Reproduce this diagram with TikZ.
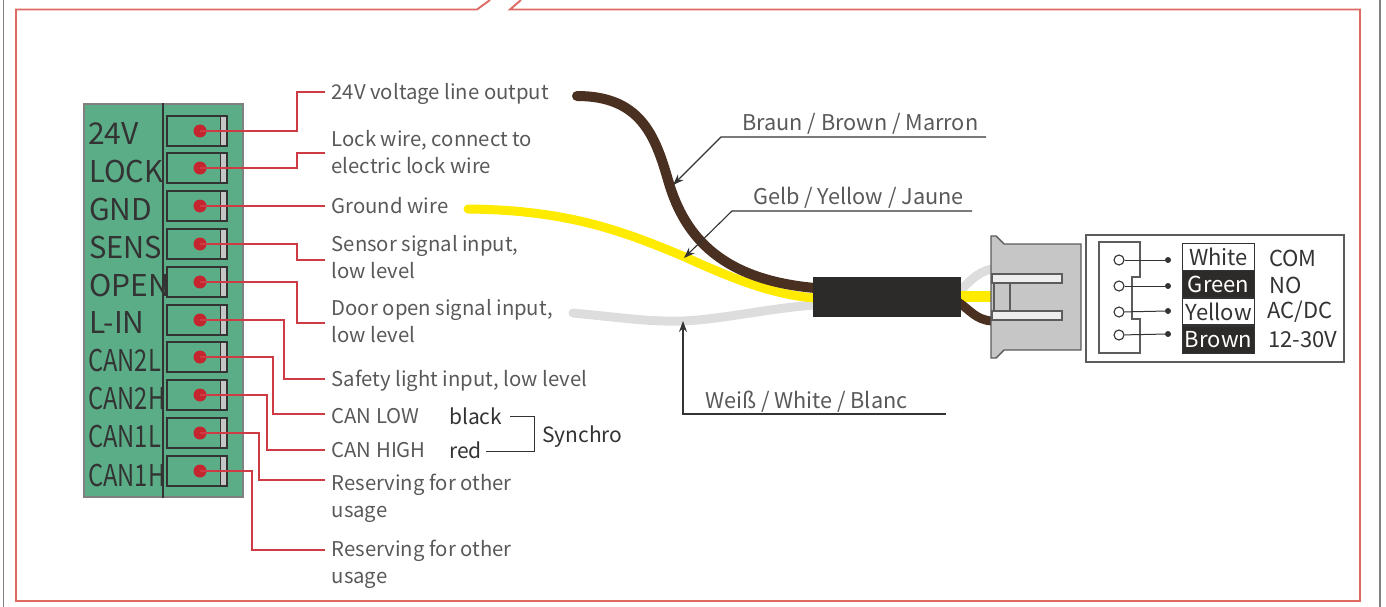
\documentclass[tikz,border=0pt]{standalone}
\usepackage{fontspec}
\setmainfont{Noto Sans CJK SC}
\usetikzlibrary{arrows.meta}

\definecolor{framered}{HTML}{DE6A64}
\definecolor{leadred}{HTML}{CE3B45}
\definecolor{dotred}{HTML}{C5252E}
\definecolor{boardgreen}{HTML}{5BAD87}
\definecolor{inkgrey}{HTML}{595959}
\definecolor{darkink}{HTML}{333333}
\definecolor{wirebrown}{HTML}{4A3020}
\definecolor{wireyellow}{HTML}{FFEB00}
\definecolor{wirewhite}{HTML}{DDDDDD}
\definecolor{plugbody}{HTML}{C6C6C6}
\definecolor{sleeveblack}{HTML}{2C2B29}

\tikzset{
	pinlabel/.style={anchor=west, inner sep=0pt, text=darkink, font=\fontsize{30}{30}\selectfont},
	terminal/.style={draw=darkink, line width=1.2pt, fill=boardgreen, inner sep=0pt, minimum width=60pt, minimum height=30pt,
		path picture={\fill[plugbody] ([xshift=-7pt]path picture bounding box.north east) rectangle (path picture bounding box.south east);
			\draw[darkink, line width=1pt] ([xshift=-7pt]path picture bounding box.north east) -- ([xshift=-7pt]path picture bounding box.south east);}},
	pindot/.style={shape=circle, fill=dotred, inner sep=0pt, minimum size=13pt},
	leader/.style={draw=leadred, line width=1.3pt},
	note/.style={anchor=west, inner sep=0pt, align=left, text=inkgrey, font=\fontsize{20.3}{27}\selectfont},
	wirename/.style={anchor=west, inner sep=0pt, text=inkgrey, font=\fontsize{21.7}{27}\selectfont},
	callout/.style={draw=darkink, line width=1.1pt},
	pointer/.style={callout, -{Stealth[length=11pt, width=8pt]}},
	colorname/.style={draw=darkink, line width=1.2pt, inner sep=0pt, minimum width=72pt, minimum height=27pt, text=darkink, font=\fontsize{22}{27}\selectfont},
	blackname/.style={colorname, fill=sleeveblack, text=white},
	signame/.style={anchor=west, inner sep=0pt, text=darkink, font=\fontsize{22}{27}\selectfont},
	pinring/.style={shape=circle, draw=darkink, line width=1.1pt, fill=white, inner sep=0pt, minimum size=10pt},
	pinend/.style={shape=circle, fill=darkink, inner sep=0pt, minimum size=6pt},
}

\begin{document}
\begin{tikzpicture}[x=1pt, y=-1pt]

	\useasboundingbox (0,0) rectangle (1386,607);

	% page edges and frame
	\draw[gray, line width=1.8pt] (3.5,0) -- (3.5,607);
	\draw[gray, line width=1.8pt] (1380,0) -- (1380,607);
	\draw[framered, line width=1.9pt] (490,0) -- (477,9.5) -- (16,9.5) -- (16,601) -- (1360,601) -- (1360,9.5) -- (510,9.5) -- (521,0);

	% green board
	\node[draw=gray, line width=1.4pt, fill=boardgreen, inner sep=0pt, minimum width=159pt, minimum height=393pt] (board) at (163.5,300.5) {};
	\draw[darkink, line width=1.1pt] (board.north) ++(-0.5,0) -- ([xshift=-0.5pt]board.south);

	\node[pinlabel] (name24v) at (88,134) {24V};
	\node[pinlabel] (namelock) at (89,172) {\scalebox{.97}[1]{LOCK}};
	\node[pinlabel] (namegnd) at (89,210) {GND};
	\node[pinlabel] (namesens) at (89,248) {\scalebox{.97}[1]{SENS}};
	\node[pinlabel] (nameopen) at (89,286) {OPEN};
	\node[pinlabel] (namelin) at (89,323) {L-IN};
	\node[pinlabel] (namecanA) at (88,361) {\scalebox{.79}[1]{CAN2L}};
	\node[pinlabel] (namecanB) at (88,399) {\scalebox{.79}[1]{CAN2H}};
	\node[pinlabel] (namecanC) at (88,437) {\scalebox{.79}[1]{CAN1L}};
	\node[pinlabel] (namecanD) at (88,475) {\scalebox{.79}[1]{CAN1H}};

	\node[terminal] (term24v) at (197,131) {};
	\node[terminal] (termlock) at (197,168) {};
	\node[terminal] (termgnd) at (197,206) {};
	\node[terminal] (termsens) at (197,244) {};
	\node[terminal] (termopen) at (197,282) {};
	\node[terminal] (termlin) at (197,320) {};
	\node[terminal] (termcanA) at (197,357) {};
	\node[terminal] (termcanB) at (197,395) {};
	\node[terminal] (termcanC) at (197,433) {};
	\node[terminal] (termcanD) at (197,471) {};

	\node[pindot] (dot24v) at (200,131) {};
	\node[pindot] (dotlock) at (200,168) {};
	\node[pindot] (dotgnd) at (200,206) {};
	\node[pindot] (dotsens) at (200,244) {};
	\node[pindot] (dotopen) at (200,282) {};
	\node[pindot] (dotlin) at (200,320) {};
	\node[pindot] (dotcanA) at (200,357) {};
	\node[pindot] (dotcanB) at (200,395) {};
	\node[pindot] (dotcanC) at (200,433) {};
	\node[pindot] (dotcanD) at (200,471) {};

	% notes beside the board
	\node[note] (note24v) at (331.5,93.5) {24V voltage line output};
	\node[note] (notelock) at (331.5,152) {Lock wire, connect to\\electric lock wire};
	\node[note] (notegnd) at (331.5,206) {Ground wire};
	\node[note] (notesens) at (331.5,257) {Sensor signal input,\\low level};
	\node[note] (noteopen) at (331.5,321) {Door open signal input,\\low level};
	\node[note] (notelin) at (331.5,380.5) {Safety light input, low level};
	\node[note] (notecanlow) at (331.5,416) {CAN LOW};
	\node[note] (notecanhigh) at (331.5,450) {CAN HIGH};
	\node[note] (noteresA) at (331.5,498.5) {Reserving for other\\usage};
	\node[note] (noteresB) at (331.5,564.5) {Reserving for other\\usage};

	\coordinate (end24v) at (325,92);
	\coordinate (endlock) at (325,153);
	\coordinate (endgnd) at (325,206);
	\coordinate (endsens) at (325,260);
	\coordinate (endopen) at (325,323);
	\coordinate (endlin) at (325,379);
	\coordinate (endcanA) at (325,414);
	\coordinate (endcanB) at (325,450);
	\coordinate (endcanC) at (325,480);
	\coordinate (endcanD) at (325,550);

	\draw[leader] (dot24v.center) -- ++(97,0) |- (end24v);
	\draw[leader] (dotlock.center) -- ++(97,0) |- (endlock);
	\draw[leader] (dotgnd.center) -- (endgnd);
	\draw[leader] (dotsens.center) -- ++(97,0) |- (endsens);
	\draw[leader] (dotopen.center) -- ++(97,0) |- (endopen);
	\draw[leader] (dotlin.center) -- ++(84,0) |- (endlin);
	\draw[leader] (dotcanA.center) -- ++(73,0) |- (endcanA);
	\draw[leader] (dotcanB.center) -- ++(67,0) |- (endcanB);
	\draw[leader] (dotcanC.center) -- ++(59,0) |- (endcanC);
	\draw[leader] (dotcanD.center) -- ++(52,0) |- (endcanD);

	% synchro bracket
	\node[signame, font=\fontsize{21}{27}\selectfont] (black) at (449,416) {black};
	\node[signame, font=\fontsize{21}{27}\selectfont] (red) at (449,450) {red};
	\node[signame, font=\fontsize{21}{27}\selectfont] (synchro) at (542,436.5) {Synchro};
	\coordinate (blackend) at (510,416);
	\coordinate (redend) at (486,451);
	\coordinate (bracket) at (534,416);
	\draw[callout, line width=0.9pt] (blackend) -- (bracket) |- (redend);

	% wires
	\coordinate (brownfree) at (577,96);
	\coordinate (yellowfree) at (468,209);
	\coordinate (whitefree) at (573,313);
	\coordinate (brownin) at (815,288);
	\coordinate (yellowin) at (815,298);
	\coordinate (whitein) at (815,305);
	\draw[wirewhite, line width=9pt, line cap=round] (whitefree) .. controls (625,318) and (650,322) .. (683,321) .. controls (725,319) and (770,308) .. (whitein);
	\draw[wireyellow, line width=9pt, line cap=round] (yellowfree) .. controls (570,210) and (625,232) .. (685,257) .. controls (735,280) and (775,295) .. (yellowin);
	\draw[wirebrown, line width=10pt, line cap=round] (brownfree) .. controls (640,96) and (655,135) .. (668,180) .. controls (685,240) and (725,280) .. (brownin);

	% plug
	\draw[wirewhite, line width=9pt] (958,292) .. controls (968,284) and (976,272) .. (992,269);
	\draw[wireyellow, line width=11pt] (958,296) -- (992,296);
	\draw[wirebrown, line width=9pt] (958,302) .. controls (970,310) and (976,320) .. (992,321);
	\node[fill=sleeveblack, inner sep=0pt, minimum width=148pt, minimum height=40pt] (sleeve) at (887,297) {};
	\draw[darkink!80, line width=1.4pt, fill=plugbody] (991,236) -- (996,236) -- (1004,244) -- (1081,244) -- (1081,350) -- (1004,350) -- (996,358) -- (991,358) -- cycle;
	\draw[darkink!80, line width=1.1pt, fill=plugbody] (994,283) rectangle (1010,311);
	\draw[darkink!80, line width=1.1pt, fill=white!70!plugbody] (992,274) rectangle (1062,283);
	\draw[darkink!80, line width=1.1pt, fill=white!70!plugbody] (992,311) rectangle (1062,320);

	% callouts to the wires
	\node[wirename] (braun) at (742,124) {Braun / Brown / Marron};
	\node[wirename] (gelb) at (753,198) {Gelb / Yellow / Jaune};
	\node[wirename] (weiss) at (705,402) {Weiß / White / Blanc};
	\coordinate (braunend) at (986,137);
	\coordinate (braunknee) at (721,137);
	\coordinate (brauntip) at (673,185);
	\coordinate (gelbend) at (972,211);
	\coordinate (gelbknee) at (732,211);
	\coordinate (gelbtip) at (684,258);
	\coordinate (weissend) at (946,414);
	\coordinate (weissknee) at (683,414);
	\coordinate (weisstip) at (683,321);
	\draw[pointer] (braunend) -- (braunknee) -- (brauntip);
	\draw[pointer] (gelbend) -- (gelbknee) -- (gelbtip);
	\draw[pointer] (weissend) -- (weissknee) -- (weisstip);

	% pin table
	\node[draw=darkink!80, line width=1.3pt, inner sep=0pt, minimum width=258pt, minimum height=127pt] (table) at (1215,298.5) {};
	\draw[darkink!80, line width=1.5pt] (1099,242) -- (1140,242) -- (1140,277) -- (1132,277) -- (1132,319) -- (1140,319) -- (1140,353) -- (1099,353) -- cycle;

	\node[colorname] (white) at (1218.5,257) {White};
	\node[blackname] (green) at (1218.5,284) {Green};
	\node[colorname] (yellow) at (1218.5,311.5) {Yellow};
	\node[blackname] (brown) at (1218.5,340) {Brown};

	\node[signame] (com) at (1269,258) {COM};
	\node[signame] (no) at (1269,285) {NO};
	\node[signame] (acdc) at (1267,312) {AC/DC};
	\node[signame] (volt) at (1268,340) {12-30V};

	\node[pinring] (ringA) at (1119,260) {};
	\node[pinring] (ringB) at (1119,286) {};
	\node[pinring] (ringC) at (1119,312) {};
	\node[pinring] (ringD) at (1119,335) {};
	\node[pinend] (pinA) at (1168,260) {};
	\node[pinend] (pinB) at (1168,286) {};
	\node[pinend] (pinC) at (1168,311) {};
	\node[pinend] (pinD) at (1168,334) {};

	\draw[darkink, line width=1pt] (ringA) -- (pinA);
	\draw[darkink, line width=1pt] (ringB) -- (pinB);
	\draw[darkink, line width=1pt] (ringC) -- (pinC);
	\draw[darkink, line width=1pt] (ringD) -- (pinD);

\end{tikzpicture}
\end{document}
